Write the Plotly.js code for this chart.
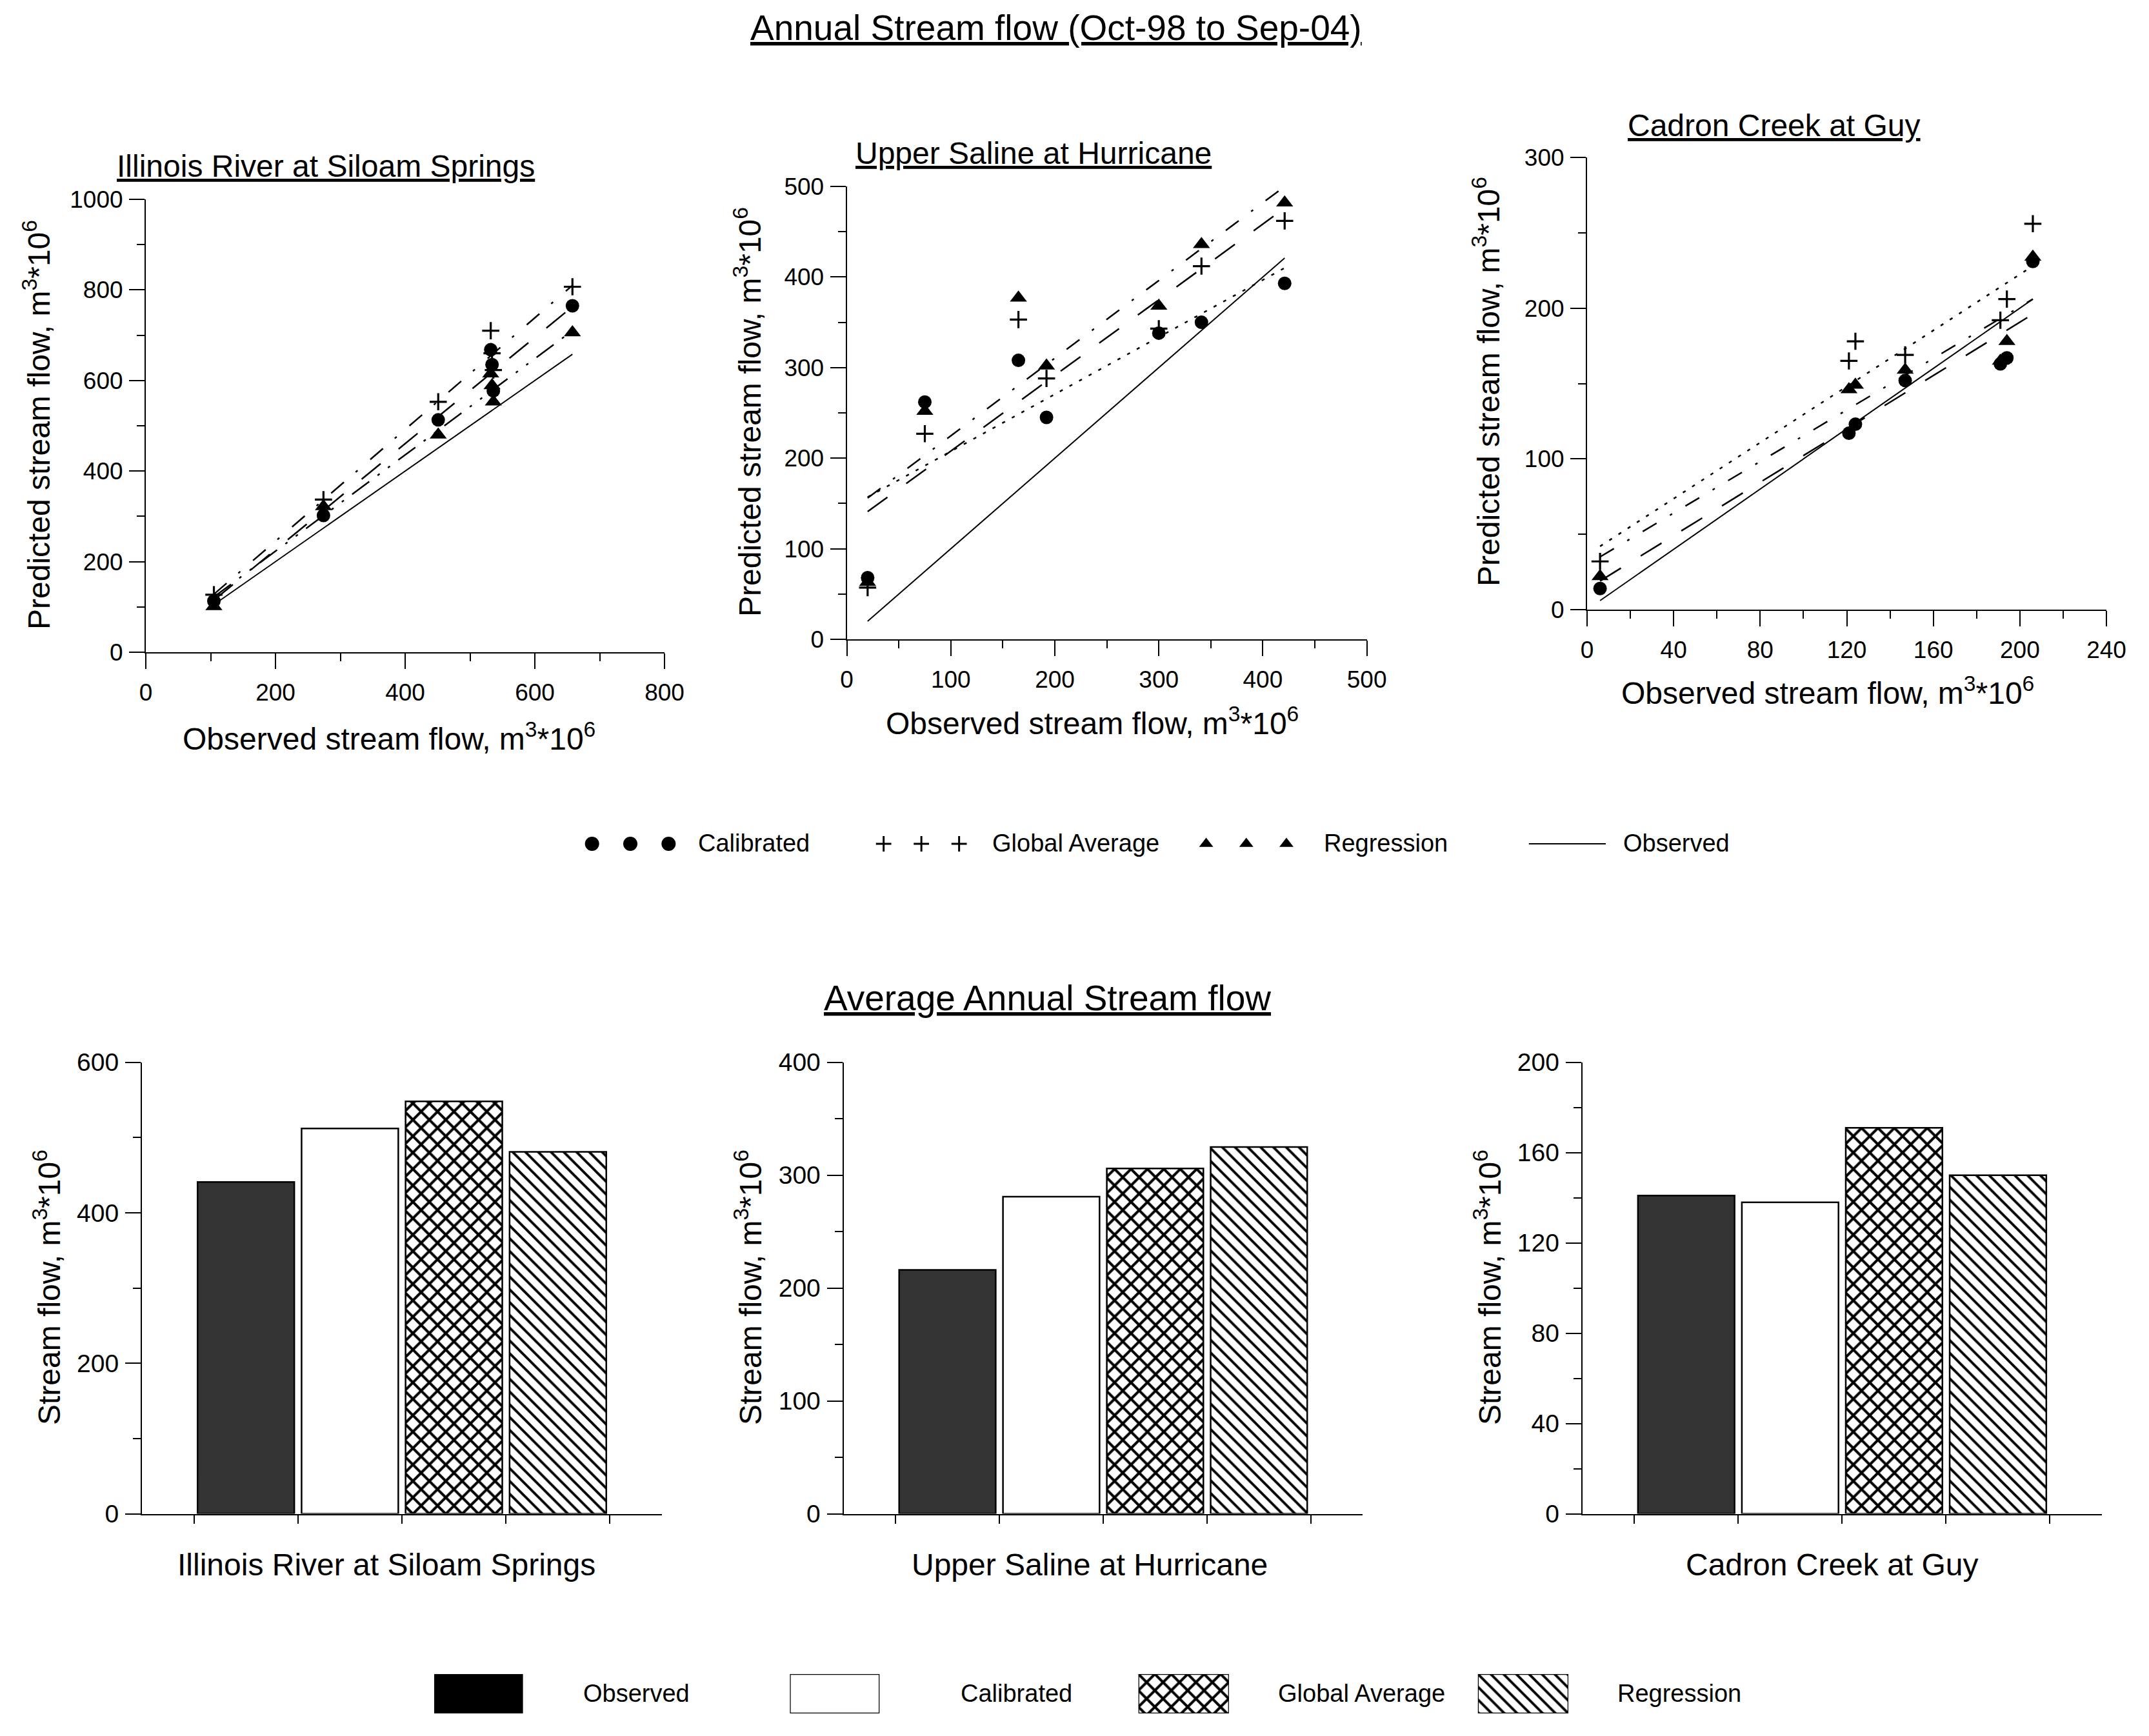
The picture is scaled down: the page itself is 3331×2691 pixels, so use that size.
<!DOCTYPE html>
<html><head><meta charset="utf-8">
<script src="https://cdn.plot.ly/plotly-3.0.1.min.js"></script>
<style>html,body{margin:0;padding:0;background:#fff;}#chart{width:3331px;height:2691px;}</style>
</head><body><div id="chart"></div>
<script>
// ================= DATA =================
const methods = ['Observed', 'Calibrated', 'Global Average', 'Regression'];
const siteNames = ['Illinois River at Siloam Springs', 'Upper Saline at Hurricane', 'Cadron Creek at Guy'];

// Annual stream flow, m3*10^6 (observed vs predicted)
const illinoisObs  = [105, 274, 451, 532, 534, 536, 658];
const illinoisCal  = [113, 302, 513, 668, 635, 577, 765];
const illinoisGlob = [127, 337, 553, 710, 660, 623, 807];
const illinoisReg  = [101, 322, 480, 615, 589, 553, 706];
// fitted lines (value at lowest and highest observed flow)
const illinoisFitCal  = [115, 763];
const illinoisFitGlob = [128, 810];
const illinoisFitReg  = [122, 710];

const salineObs  = [20, 75, 165, 192, 300, 341, 421];
const salineCal  = [68, 262, 308, 245, 338, 350, 393];
const salineGlob = [57, 227, 353, 288, 343, 412, 462];
const salineReg  = [63, 252, 377, 302, 368, 436, 482];
const salineFitCal  = [157, 410];
const salineFitGlob = [141, 476];
const salineFitReg  = [156, 500];

const cadronObs  = [6, 121, 124, 147, 191, 194, 206];
const cadronCal  = [14, 117, 123, 152, 163, 167, 231];
const cadronGlob = [32, 165, 178, 169, 192, 206, 256];
const cadronReg  = [22, 146, 149, 159, 165, 178, 234];
const cadronFitCal  = [19, 196];
const cadronFitGlob = [42, 228];
const cadronFitReg  = [35, 206];

// Average annual stream flow, m3*10^6 (Observed, Calibrated, Global Average, Regression)
const avgIllinois = [441, 512, 548, 481];
const avgSaline   = [216, 281, 306, 325];
const avgCadron   = [141, 138, 171, 150];

// ================= STYLE / LAYOUT =================
const W = 3331, H = 2691;
const F = 'Liberation Sans, Arial, Helvetica, sans-serif';
const dx = (a, b) => [a / W, b / W];
const dy = (t, b) => [1 - b / H, 1 - t / H];
const PX = p => p / W, PY = p => 1 - p / H;

const DOT = '5px,12px', LDASH = '38px,36px', DASHDOT = '25px,24px,4px,24px';
const ILL_TOP = '26px,24px,4px,26px', ILL_BOT = '33px,16px,4px,16px,4px,16px';

function linAxis(domain, range, dtick, minor, anchor, fs, standoff) {
  return {
    domain: domain, range: range, dtick: dtick, tick0: 0, anchor: anchor,
    showgrid: false, zeroline: false, showline: true, linecolor: 'black', linewidth: 2,
    ticks: 'outside', ticklen: 24, tickwidth: 2, tickcolor: 'black',
    tickfont: {family: F, size: fs, color: 'black'}, ticklabelstandoff: standoff,
    minor: {dtick: minor, tick0: 0, ticks: 'outside', ticklen: 12, tickwidth: 2, tickcolor: 'black', showgrid: false},
    fixedrange: true
  };
}
function catAxis(domain, anchor) {
  return {
    domain: domain, anchor: anchor, type: 'category', categoryorder: 'array', categoryarray: methods,
    range: [-1, 4], tickson: 'boundaries', ticks: 'outside', ticklen: 13, tickwidth: 2, tickcolor: 'black',
    showticklabels: false, showgrid: false, zeroline: false, showline: true, linecolor: 'black', linewidth: 2,
    fixedrange: true
  };
}
function hidden(domain, range, anchor, type) {
  const a = {domain: domain, range: range, anchor: anchor, visible: false, fixedrange: true};
  if (type) a.type = type;
  return a;
}

const XS = 5, YS = 2;
const layout = {
  width: W, height: H, margin: {l: 0, r: 0, t: 0, b: 0},
  paper_bgcolor: 'white', plot_bgcolor: 'rgba(0,0,0,0)', showlegend: false, barmode: 'overlay',
  font: {family: F, color: 'black'},
  // scatter panels
  xaxis:  linAxis(dx(226, 1030),   [0, 800], 200, 100, 'y', 37, XS),
  yaxis:  linAxis(dy(309, 1011),   [0, 1000], 200, 100, 'x', 37, YS),
  xaxis2: linAxis(dx(1312.6, 2118.6), [0, 500], 100, 50, 'y2', 37, XS),
  yaxis2: linAxis(dy(289, 991),    [0, 500], 100, 50, 'x2', 37, YS),
  xaxis3: linAxis(dx(2460, 3265),  [0, 240], 40, 20, 'y3', 37, XS),
  yaxis3: linAxis(dy(244, 945),    [0, 300], 100, 50, 'x3', 37, YS),
  // bar panels
  xaxis4: catAxis(dx(220, 1026), 'y4'),
  yaxis4: linAxis(dy(1646.7, 2346.5), [0, 600], 200, 100, 'x4', 39, YS),
  xaxis5: catAxis(dx(1307.6, 2112.3), 'y5'),
  yaxis5: linAxis(dy(1646.7, 2346.5), [0, 400], 100, 50, 'x5', 39, YS),
  xaxis6: catAxis(dx(2452.7, 3258), 'y6'),
  yaxis6: linAxis(dy(1646.7, 2346.5), [0, 200], 40, 20, 'x6', 39, YS),
  // bar legend swatches
  xaxis7:  hidden(dx(673, 810.5), [-0.5, 0.5], 'y7', 'category'),
  yaxis7:  hidden(dy(2595, 2656), [0, 1], 'x7'),
  xaxis8:  hidden(dx(1224.4, 1363.3), [-0.5, 0.5], 'y8', 'category'),
  yaxis8:  hidden(dy(2595, 2656), [0, 1], 'x8'),
  xaxis9:  hidden(dx(1764.6, 1904.9), [-0.5, 0.5], 'y9', 'category'),
  yaxis9:  hidden(dy(2595, 2656), [0, 1], 'x9'),
  xaxis10: hidden(dx(2290.8, 2431), [-0.5, 0.5], 'y10', 'category'),
  yaxis10: hidden(dy(2595, 2656), [0, 1], 'x10'),
  // scatter legend keys
  xaxis11: hidden(dx(888, 1066), [-0.5, 2.5], 'y11'),
  yaxis11: hidden(dy(1288, 1328), [-1, 1], 'x11'),
  xaxis12: hidden(dx(1340.4, 1515.9), [-0.5, 2.5], 'y12'),
  yaxis12: hidden(dy(1288, 1328), [-1, 1], 'x12'),
  xaxis13: hidden(dx(1838.5, 2025.1), [-0.5, 2.5], 'y13'),
  yaxis13: hidden(dy(1288, 1328), [-1, 1], 'x13'),
  xaxis14: hidden(dx(2369.6, 2489), [0, 1], 'y14'),
  yaxis14: hidden(dy(1288, 1328), [-1, 1], 'x14'),
  annotations: []
};

// ================= TRACES =================
const traces = [];
const MK = {
  cal:  {symbol: 'circle', size: 21, color: 'black'},
  glob: {symbol: 'cross-thin', size: 19, color: 'black', line: {color: 'black', width: 3.2}},
  reg:  {symbol: 'triangle-up', size: 23, color: 'black'}
};

function scatterPanel(ax, obs, cal, glob, reg, fitCal, fitGlob, fitReg, dCal, dGlob, dReg) {
  const xa = 'x' + ax, ya = 'y' + ax;
  const ends = [Math.min.apply(null, obs), Math.max.apply(null, obs)];
  traces.push({type: 'scatter', mode: 'lines', x: ends, y: ends, xaxis: xa, yaxis: ya, line: {color: 'black', width: 2}});
  traces.push({type: 'scatter', mode: 'lines', x: ends, y: fitCal, xaxis: xa, yaxis: ya, line: {color: 'black', width: 2.5, dash: dCal}});
  traces.push({type: 'scatter', mode: 'lines', x: ends, y: fitGlob, xaxis: xa, yaxis: ya, line: {color: 'black', width: 2.5, dash: dGlob}});
  traces.push({type: 'scatter', mode: 'lines', x: ends, y: fitReg, xaxis: xa, yaxis: ya, line: {color: 'black', width: 2.5, dash: dReg}});
  traces.push({type: 'scatter', mode: 'markers', x: obs, y: reg, xaxis: xa, yaxis: ya, marker: MK.reg, name: 'Regression'});
  traces.push({type: 'scatter', mode: 'markers', x: obs, y: glob, xaxis: xa, yaxis: ya, marker: MK.glob, name: 'Global Average'});
  traces.push({type: 'scatter', mode: 'markers', x: obs, y: cal, xaxis: xa, yaxis: ya, marker: MK.cal, name: 'Calibrated'});
}
scatterPanel('', illinoisObs, illinoisCal, illinoisGlob, illinoisReg, illinoisFitCal, illinoisFitGlob, illinoisFitReg, LDASH, ILL_TOP, ILL_BOT);
scatterPanel('2', salineObs, salineCal, salineGlob, salineReg, salineFitCal, salineFitGlob, salineFitReg, DOT, LDASH, DASHDOT);
scatterPanel('3', cadronObs, cadronCal, cadronGlob, cadronReg, cadronFitCal, cadronFitGlob, cadronFitReg, LDASH, DOT, DASHDOT);

const barStyles = [
  {color: '#333333'},
  {color: 'white'},
  {color: 'white', pattern: {shape: 'x', fgcolor: 'black', bgcolor: 'white', size: 18, solidity: 0.4, fillmode: 'replace'}},
  {color: 'white', pattern: {shape: '\\', fgcolor: 'black', bgcolor: 'white', size: 14, solidity: 0.28, fillmode: 'replace'}}
];
function barPanel(ax, vals) {
  methods.forEach((m, i) => {
    traces.push({
      type: 'bar', x: [m], y: [vals[i]], xaxis: 'x' + ax, yaxis: 'y' + ax, width: 0.93, name: m,
      marker: Object.assign({line: {color: 'black', width: 2.5}}, barStyles[i])
    });
  });
}
barPanel('4', avgIllinois);
barPanel('5', avgSaline);
barPanel('6', avgCadron);

// bar legend swatches
methods.forEach((m, i) => {
  const st = Object.assign({line: {color: 'black', width: 2.5}}, barStyles[i]);
  if (i === 0) st.color = 'black';
  traces.push({type: 'bar', x: [m], y: [1], width: 1, xaxis: 'x' + (7 + i), yaxis: 'y' + (7 + i), marker: st, name: m});
});

// scatter legend keys
const legendKeyPos = [0, 1, 2];
const legendKeyY = [0, 0, 0];
traces.push({type: 'scatter', mode: 'markers', x: legendKeyPos, y: legendKeyY, xaxis: 'x11', yaxis: 'y11', marker: {symbol: 'circle', size: 22, color: 'black'}});
traces.push({type: 'scatter', mode: 'markers', x: legendKeyPos, y: legendKeyY, xaxis: 'x12', yaxis: 'y12', marker: {symbol: 'cross-thin', size: 17, color: 'black', line: {color: 'black', width: 3}}});
traces.push({type: 'scatter', mode: 'markers', x: legendKeyPos, y: legendKeyY, xaxis: 'x13', yaxis: 'y13', marker: {symbol: 'triangle-up', size: 19, color: 'black'}});
traces.push({type: 'scatter', mode: 'lines', x: [0, 1], y: [0, 0], xaxis: 'x14', yaxis: 'y14', line: {color: 'black', width: 2}});

// ================= TEXT =================
const A = layout.annotations;
function txt(text, x, y, size, opts) {
  A.push(Object.assign({
    text: text, x: PX(x), y: PY(y), xref: 'paper', yref: 'paper', showarrow: false,
    xanchor: 'center', yanchor: 'middle', font: {family: F, size: size, color: 'black'}
  }, opts || {}));
}
const UL = (size) => ({font: {family: F, size: size, color: 'black', lineposition: 'under'}});
const unit = 'm<sup>3</sup>*10<sup>6</sup>';

txt('Annual Stream flow (Oct-98 to Sep-04)', 1637, 43, 55, UL(55));
txt(siteNames[0], 505, 258, 48, UL(48));
txt(siteNames[1], 1602, 237, 48, UL(48));
txt(siteNames[2], 2750, 194, 48, UL(48));

txt('Observed stream flow, ' + unit, 603, 1142, 48);
txt('Observed stream flow, ' + unit, 1693, 1118, 48);
txt('Observed stream flow, ' + unit, 2833, 1071, 48);
txt('Predicted stream flow, ' + unit, 57, 659, 48, {textangle: -90});
txt('Predicted stream flow, ' + unit, 1159, 639, 48, {textangle: -90});
txt('Predicted stream flow, ' + unit, 2304, 592, 48, {textangle: -90});

txt('Calibrated', 1080, 1307, 38, {xanchor: 'left'});
txt('Global Average', 1536, 1307, 38, {xanchor: 'left'});
txt('Regression', 2050, 1307, 38, {xanchor: 'left'});
txt('Observed', 2514, 1307, 38, {xanchor: 'left'});

txt('Average Annual Stream flow', 1623, 1547, 55, UL(55));
txt('Stream flow, ' + unit, 73, 1996, 48, {textangle: -90});
txt('Stream flow, ' + unit, 1160, 1996, 48, {textangle: -90});
txt('Stream flow, ' + unit, 2306, 1996, 48, {textangle: -90});
txt(siteNames[0], 599, 2425, 48);
txt(siteNames[1], 1689, 2425, 48);
txt(siteNames[2], 2840, 2425, 48);

txt('Observed', 902, 2625, 38, {xanchor: 'left'});
txt('Calibrated', 1487, 2625, 38, {xanchor: 'left'});
txt('Global Average', 1979, 2625, 38, {xanchor: 'left'});
txt('Regression', 2505, 2625, 38, {xanchor: 'left'});

Plotly.newPlot('chart', traces, layout, {staticPlot: true, displayModeBar: false});
</script>
</body></html>
